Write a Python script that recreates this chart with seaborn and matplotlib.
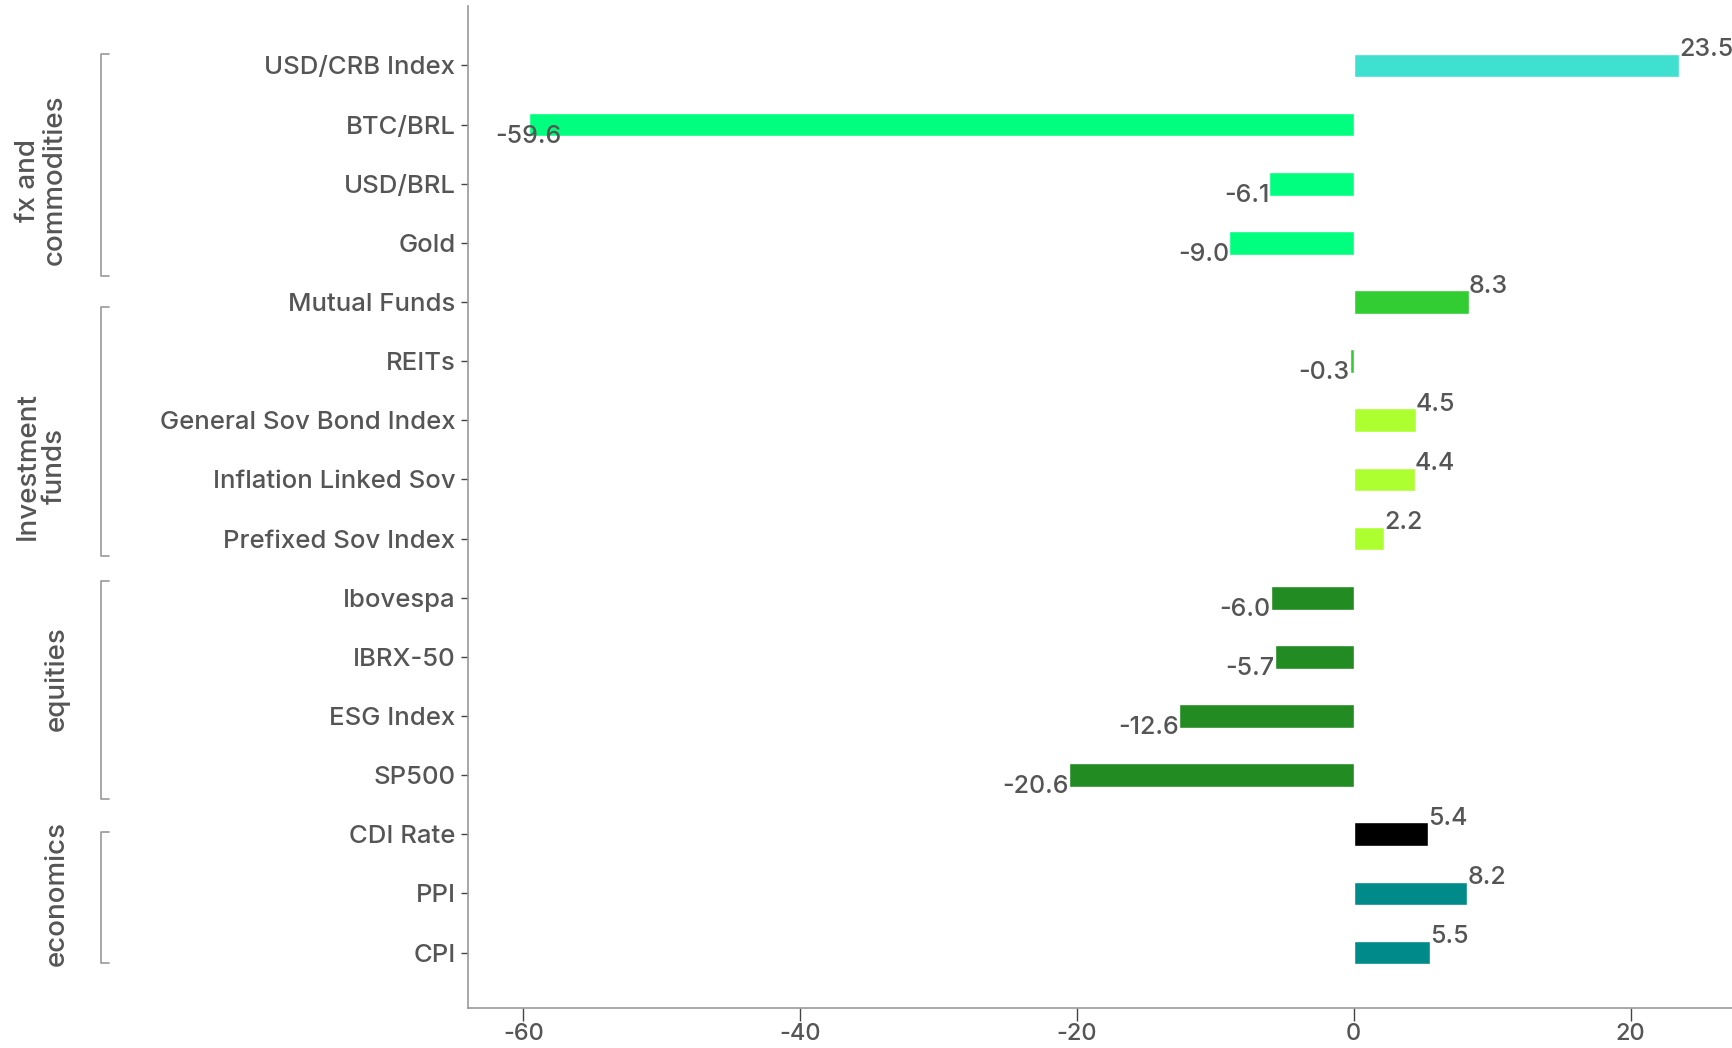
import matplotlib
matplotlib.use('Agg')
import matplotlib.pyplot as plt
import matplotlib.transforms as mtransforms
import pandas as pd
import seaborn as sns

# Data
categories = ['USD/CRB Index', 'BTC/BRL', 'USD/BRL', 'Gold',
              'Mutual Funds', 'REITs', 'General Sov Bond Index',
              'Inflation Linked Sov', 'Prefixed Sov Index',
              'Ibovespa', 'IBRX-50', 'ESG Index', 'SP500',
              'CDI Rate', 'PPI', 'CPI']
values = [23.5, -59.6, -6.1, -9.0,
          8.3, -0.3, 4.5, 4.4, 2.2,
          -6.0, -5.7, -12.6, -20.6,
          5.4, 8.2, 5.5]
bar_colors = ['#40E0D0', '#00FF7F', '#00FF7F', '#00FF7F',
              '#32CD32', '#32CD32', '#ADFF2F', '#ADFF2F', '#ADFF2F',
              '#228B22', '#228B22', '#228B22', '#228B22',
              '#000000', '#008B8B', '#008B8B']
groups = ['fx and\ncommodities', 'Investment\nfunds', 'equities', 'economics']
group_rows = [(0, 3), (4, 8), (9, 12), (13, 15)]

TEXT = '#555555'
SPINE = '#999999'

sns.set_style('white')
plt.rcParams['font.family'] = ['Inter', 'DejaVu Sans']
plt.rcParams['font.weight'] = 'medium'

df = pd.DataFrame({'category': categories, 'value': values})

fig = plt.figure(figsize=(17.33, 10.48), dpi=100)
ax = fig.add_axes([0.270, 0.038, 0.730, 0.956])

sns.barplot(data=df, x='value', y='category', hue='category',
            palette=dict(zip(categories, bar_colors)), legend=False,
            orient='h', width=0.4, saturation=1, ax=ax)

# value labels at the bar ends
for i, v in enumerate(values):
    if v >= 0:
        ax.text(v, i - 0.27, f'{v:.1f}', ha='left', va='center',
                fontsize=18, color=TEXT)
    else:
        ax.text(v, i + 0.2, f'{v:.1f}', ha='right' if v > -50 else 'center',
                va='center', fontsize=18, color=TEXT)

ax.set_xlim(-64, 27.4)
ax.set_ylim(15.94, -1.0)
ax.set_xticks([-60, -40, -20, 0, 20])
ax.set_xticklabels(['-60', '-40', '-20', '0', '20'])
ax.set_xlabel('')
ax.set_ylabel('')

for side in ['top', 'right']:
    ax.spines[side].set_visible(False)
for side in ['left', 'bottom']:
    ax.spines[side].set_color(SPINE)
    ax.spines[side].set_linewidth(1.2)

ax.tick_params(axis='y', length=5, width=1, color='#444444', labelsize=18.5,
               labelcolor=TEXT, pad=4, left=True)
ax.tick_params(axis='x', length=9, width=1, color='#444444', labelsize=17,
               labelcolor=TEXT, pad=2, bottom=True)

# group brackets and labels on the left
trans = mtransforms.blended_transform_factory(fig.transFigure, ax.transData)
bracket_x = 0.058
tick_len = 0.005
pads = [(-0.19, 0.56), (0.09, 0.3), (-0.28, 0.41), (-0.04, 0.17)]
label_rows = [1.94, 6.77, 10.37, 14.0]
for name, (r0, r1), (p0, p1), yl in zip(groups, group_rows, pads, label_rows):
    y0, y1 = r0 + p0, r1 + p1
    ax.plot([bracket_x + tick_len, bracket_x, bracket_x, bracket_x + tick_len],
            [y0, y0, y1, y1], transform=trans, color=SPINE, lw=1.2,
            clip_on=False)
    xlab = 0.024 if '\n' in name else 0.033
    ax.text(xlab, yl, name, transform=trans, rotation=90,
            ha='center', va='center', multialignment='center',
            fontsize=20, color=TEXT, linespacing=1.05)

fig.savefig('out.png', dpi=100)
